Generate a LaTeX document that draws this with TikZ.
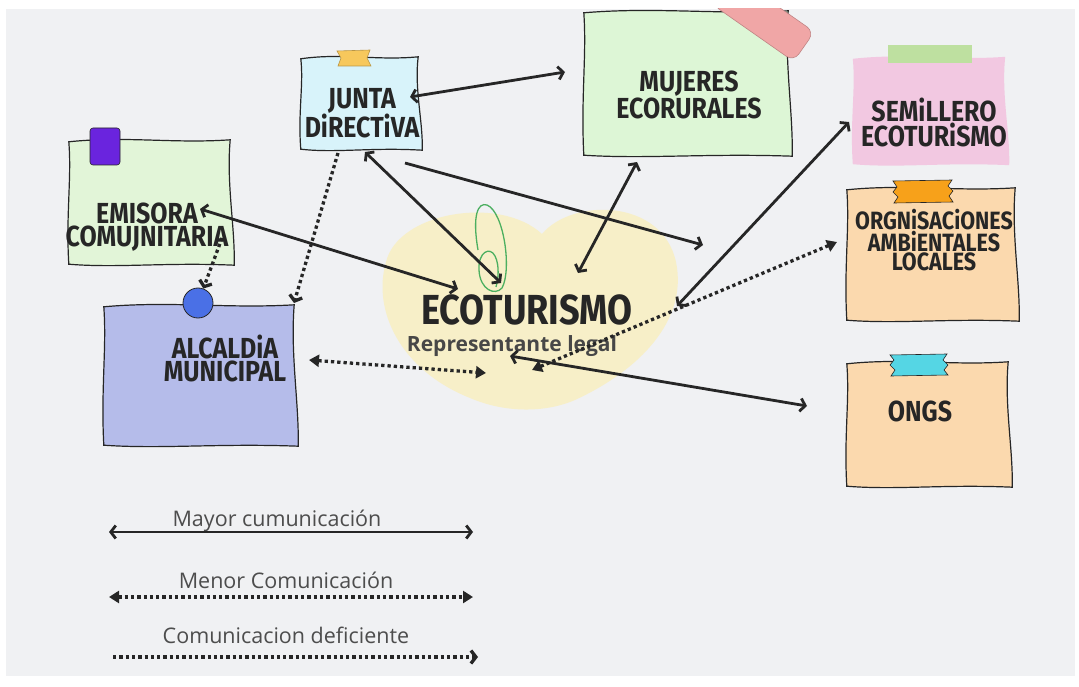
\documentclass[tikz,border=0pt]{standalone}
\usepackage{fontspec}
\usetikzlibrary{arrows.meta, calc, fit}
\setmainfont{Open Sans}
\newfontfamily\notefont[FakeStretch=0.86]{Fira Sans}

\definecolor{bggray}{HTML}{F0F1F3}
\definecolor{ink}{HTML}{262626}
\definecolor{juntablue}{HTML}{D8F3FA}
\definecolor{mujgreen}{HTML}{DDF6D6}
\definecolor{emigreen}{HTML}{E2F5D8}
\definecolor{semipink}{HTML}{F2C8E1}
\definecolor{peach}{HTML}{FBD9AE}
\definecolor{lavender}{HTML}{B5BCEA}
\definecolor{heartyellow}{HTML}{F7EFC8}
\definecolor{tapeyellow}{HTML}{F7C85C}
\definecolor{tapegreen}{HTML}{BEE0A0}
\definecolor{tapeorange}{HTML}{F7A11A}
\definecolor{tapecyan}{HTML}{55D6E4}
\definecolor{tapepink}{HTML}{F0A6A6}
\definecolor{tapepurple}{HTML}{6A24DE}
\definecolor{pinblue}{HTML}{4A70E6}
\definecolor{clipgreen}{HTML}{4CAF60}
\definecolor{legendgray}{HTML}{4D4D4D}

% wavy sheet of paper behind a box node
\newcommand{\paper}[3][draw=ink]{%
  \path[line width=1.2pt, fill=#3, #1] let \p1=(#2.north west), \p2=(#2.south east),
      \n1={\x2-\x1}, \n2={\y1-\y2} in
    (\x1,{\y1-2pt}) .. controls ({\x1+0.35*\n1},{\y1+4pt}) and ({\x1+0.65*\n1},{\y1-4pt}) .. (\x2,\y1)
    .. controls ({\x2-4pt},{\y1-0.35*\n2}) and ({\x2+5pt},{\y1-0.7*\n2}) .. ({\x2+4pt},\y2)
    .. controls ({\x1+0.6*\n1},{\y2+3pt}) and ({\x1+0.3*\n1},{\y2-3pt}) .. (\x1,{\y2+1pt})
    .. controls ({\x1-3pt},{\y2+0.4*\n2}) and ({\x1+3pt},{\y1-0.3*\n2}) .. cycle;}

\begin{document}
\begin{tikzpicture}[x=1pt, y=-1pt,
    >={Straight Barb[length=5pt,width=13pt]},
    box/.style={inner sep=0pt},
    notetext/.style={font=\notefont\bfseries\fontsize{29}{23}\selectfont, text=ink, align=center},
    legend/.style={font=\fontsize{21.5}{24}\selectfont, text=legendgray},
    strong/.style={draw=ink, line width=2.8pt, <->},
    dotline/.style={draw=ink, line width=3.3pt, dash pattern=on 3.3pt off 3pt},
    menor/.style={dotline, arrows={Triangle[length=10pt,width=12pt]-Triangle[length=10pt,width=12pt]}},
    defic/.style={dotline, ->}]

% page and background
\fill[white] (0,0) rectangle (1079,687);
\fill[bggray] (6,9) rectangle (1075,676);

% boxes of the sheets
\node[box, fit={(301,57) (418,150)}] (junta) {};
\node[box, fit={(584,11) (788,156)}] (mujeres) {};
\node[box, fit={(853,57) (1005,165)}] (semillero) {};
\node[box, fit={(847,188) (1015,321)}] (orgs) {};
\node[box, fit={(847,362) (1008,487)}] (ongs) {};
\node[box, fit={(69,140) (230,265)}] (emisora) {};
\node[box, fit={(104,305) (294,446)}] (alcaldia) {};

% sheets
\paper{junta}{juntablue}
\begin{scope}
  \clip (6,9) rectangle (1075,676);
  \paper{mujeres}{mujgreen}
  \node[fill=tapepink, draw=tapepink!80!black, line width=0.6pt, rounded corners=9pt,
        minimum width=100pt, minimum height=36pt, rotate=-35] (tapemuj) at (763,18) {};
\end{scope}
\paper[draw=none]{semillero}{semipink}
\paper{orgs}{peach}
\paper{ongs}{peach}
\paper{emisora}{emigreen}
\paper{alcaldia}{lavender}

% tapes and pin
\filldraw[fill=tapeyellow, draw=tapeyellow!75!black, line width=0.6pt]
  (337,51) -- (370,50) -- (367,58) -- (371,66) -- (338,66) -- (341,58) -- cycle;
\fill[tapegreen] (888,45) rectangle (972,63);
\filldraw[fill=tapeorange, draw=ink, line width=0.6pt]
  (893,181) -- (952,180) -- (948,186) -- (953,191) -- (949,196) -- (953,202)
  -- (894,203) -- (898,197) -- (893,192) -- (897,187) -- cycle;
\filldraw[fill=tapecyan, draw=ink, line width=0.6pt]
  (890,355) -- (947,354) -- (943,360) -- (948,365) -- (944,370) -- (948,375)
  -- (891,376) -- (895,370) -- (890,365) -- (894,360) -- cycle;
\filldraw[fill=tapepurple, draw=ink, line width=0.6pt, rounded corners=3pt]
  (90,128) rectangle (120,165);
\node[circle, fill=pinblue, draw=ink, line width=0.8pt, minimum size=30pt] (pin) at (198,303) {};

% heart and clip
\fill[heartyellow] (542,234) .. controls (572,198) and (662,198) .. (676,262)
  .. controls (688,320) and (640,370) .. (575,400)
  .. controls (545,413) and (505,413) .. (470,398)
  .. controls (400,370) and (372,310) .. (386,262)
  .. controls (398,212) and (500,195) .. (542,234);
\draw[clipgreen, line width=1.3pt] (478,250) .. controls (472,215) and (478,202) .. (487,205)
  .. controls (504,212) and (512,270) .. (502,288) .. controls (495,296) and (480,290) .. (479,270)
  .. controls (478,252) and (490,246) .. (495,256) .. controls (500,266) and (498,280) .. (496,287);

% texts
\node[notetext] (junta-t) at (362,113) {JUNTA\\DiRECTiVA};
\node[notetext] (mujeres-t) at (689,95) {MUJERES\\ECORURALES};
\node[notetext] (semillero-t) at (934,122) {SEMiLLERO\\ECOTURiSMO};
\node[notetext, font=\notefont\bfseries\fontsize{25}{19}\selectfont] (orgs-t) at (934,240)
  {ORGNiSACiONES\\AMBiENTALES\\LOCALES};
\node[notetext] (ongs-t) at (920,411) {ONGS};
\node[notetext] (emisora-t) at (147,227) {EMISORA\\COMUJNITARIA};
\node[notetext] (alcaldia-t) at (225,358) {ALCALDiA\\MUNICIPAL};
\node[notetext, font=\notefont\bfseries\fontsize{42}{44}\selectfont] (eco) at (527,310) {ECOTURISMO};
\node[font=\bfseries\fontsize{21}{24}\selectfont, text=ink!85] (rep) at (512,346) {Representante legal};

% arrow ends
\coordinate (junta-e) at (410,97);
\coordinate (mujeres-w) at (565,72);
\coordinate (junta-s) at (365,152);
\coordinate (junta-se) at (405,163);
\coordinate (junta-sw) at (338,153);
\coordinate (eco-nw) at (501,283);
\coordinate (eco-ne) at (703,245);
\coordinate (eco-n) at (578,273);
\coordinate (eco-e) at (677,306);
\coordinate (eco-w) at (458,289);
\coordinate (eco-sw) at (486,373);
\coordinate (eco-s) at (532,370);
\coordinate (rep-s) at (510,356);
\coordinate (mujeres-s) at (637,162);
\coordinate (semillero-w) at (849,122);
\coordinate (orgs-w) at (837,242);
\coordinate (ongs-w) at (807,406);
\coordinate (emisora-e) at (200,209);
\coordinate (emisora-s) at (222,238);
\coordinate (alcaldia-ne) at (294,303);
\coordinate (alcaldia-e) at (309,360);

% connectors
\draw[strong] (junta-e) -- (mujeres-w);
\draw[strong] (junta-s) -- (eco-nw);
\draw[strong, -> ] (junta-se) -- (eco-ne);
\draw[strong] (mujeres-s) -- (eco-n);
\draw[strong] (semillero-w) -- (eco-e);
\draw[strong] (emisora-e) -- (eco-w);
\draw[strong] (rep-s) -- (ongs-w);
\draw[defic] (junta-sw) -- (alcaldia-ne);
\draw[defic] (emisora-s) -- (pin);
\draw[menor] (alcaldia-e) -- (eco-sw);
\draw[menor] (eco-s) -- (orgs-w);

% legend
\node[legend] (mayor) at (277,521) {Mayor cumunicación};
\node[legend] (menos) at (286,580) {Menor Comunicación};
\node[legend] (defi) at (286,635) {Comunicacion deficiente};
\coordinate (mayor-a) at (109,532);
\coordinate (mayor-b) at (473,532);
\coordinate (menos-a) at (109,597);
\coordinate (menos-b) at (473,597);
\coordinate (defi-a) at (113,657);
\coordinate (defi-b) at (478,657);
\draw[strong] (mayor-a) -- (mayor-b);
\draw[menor] (menos-a) -- (menos-b);
\draw[defic] (defi-a) -- (defi-b);
\end{tikzpicture}
\end{document}
